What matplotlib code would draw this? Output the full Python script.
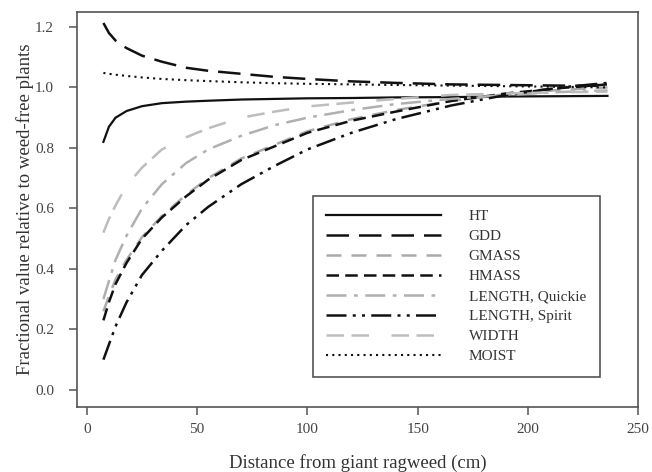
import matplotlib
matplotlib.use("Agg")
import matplotlib.pyplot as plt

plt.rcParams["font.family"] = ["Liberation Serif", "DejaVu Serif"]

# distance from giant ragweed (cm)
dist = [7.5, 10, 13, 18, 25, 34, 45, 55, 70, 85, 100, 120, 140, 165, 190, 215, 236]

# fractional values
ht = [0.82, 0.87, 0.90, 0.922, 0.938, 0.948, 0.953, 0.956, 0.96, 0.962,
      0.964, 0.965, 0.967, 0.968, 0.97, 0.971, 0.972]
gdd = [1.213, 1.18, 1.155, 1.13, 1.105, 1.085, 1.065, 1.055, 1.045, 1.035,
       1.028, 1.02, 1.015, 1.01, 1.008, 1.006, 1.005]
gmass = [0.26, 0.31, 0.365, 0.43, 0.505, 0.575, 0.645, 0.70, 0.765, 0.81,
         0.855, 0.895, 0.925, 0.955, 0.978, 0.992, 1.0]
hmass = [0.23, 0.29, 0.35, 0.42, 0.50, 0.57, 0.64, 0.695, 0.76, 0.805,
         0.85, 0.89, 0.92, 0.955, 0.98, 0.998, 1.01]
len_quickie = [0.30, 0.36, 0.43, 0.51, 0.60, 0.68, 0.75, 0.795, 0.84, 0.875,
               0.90, 0.925, 0.945, 0.962, 0.975, 0.985, 0.99]
len_spirit = [0.10, 0.15, 0.21, 0.29, 0.38, 0.46, 0.545, 0.605, 0.68, 0.74,
              0.795, 0.85, 0.895, 0.94, 0.975, 1.0, 1.015]
width = [0.52, 0.565, 0.61, 0.675, 0.735, 0.795, 0.835, 0.865, 0.90, 0.92,
         0.937, 0.95, 0.962, 0.975, 0.98, 0.984, 0.986]
moist = [1.048, 1.045, 1.042, 1.038, 1.033, 1.028, 1.024, 1.021, 1.017, 1.014,
         1.012, 1.01, 1.008, 1.006, 1.004, 1.002, 1.0]

xticks = [0, 50, 100, 150, 200, 250]
xticklabels = ["0", "50", "100", "150", "200", "250"]
yticks = [0.0, 0.2, 0.4, 0.6, 0.8, 1.0, 1.2]

fig = plt.figure(figsize=(6.52, 4.72), dpi=100)
ax = fig.add_axes([0.118, 0.138, 0.861, 0.837])

ax.plot(dist, ht, color="#111111", lw=1.6, label="HT")
ax.plot(dist, gdd, color="#111111", lw=1.8, dashes=(9, 4), label="GDD")
ax.plot(dist, gmass, color="#aaaaaa", lw=1.8, dashes=(6, 4), label="GMASS")
ax.plot(dist, hmass, color="#111111", lw=1.8, dashes=(5, 2.5), label="HMASS")
ax.plot(dist, len_quickie, color="#b0b0b0", lw=1.8, dashes=(8, 3, 1.5, 3),
        label="LENGTH, Quickie")
ax.plot(dist, len_spirit, color="#111111", lw=1.8, dashes=(8, 2.5, 1.2, 2.5, 1.2, 2.5),
        label="LENGTH, Spirit")
ax.plot(dist, width, color="#bdbdbd", lw=1.8, dashes=(7, 3, 7, 9), label="WIDTH")
ax.plot(dist, moist, color="#111111", lw=1.5, dashes=(1, 2), label="MOIST")

ax.set_xlim(-4.5, 250)
ax.set_ylim(-0.056, 1.25)
ax.set_xticks(xticks)
ax.set_xticklabels(xticklabels)
ax.set_yticks(yticks)
ax.set_yticklabels(["%.1f" % v for v in yticks])

for s in ax.spines.values():
    s.set_color("#555555")
    s.set_linewidth(1.2)
ax.tick_params(direction="out", length=5.5, width=1.1, color="#555555",
               labelcolor="#444444", labelsize=11)
ax.tick_params(axis="x", pad=6)
ax.tick_params(axis="y", pad=11)

ax.set_xlabel("Distance from giant ragweed (cm)", fontsize=13.5, color="#333333", labelpad=13)
ax.set_ylabel("Fractional value relative to weed-free plants", fontsize=13.5,
              color="#333333", labelpad=1)

leg = ax.legend(loc="upper left", bbox_to_anchor=(0.42, 0.534), fontsize=11,
                handlelength=7.5, handletextpad=1.8, labelspacing=0.41,
                fancybox=False, framealpha=1, borderpad=0.9, borderaxespad=0)
leg.get_frame().set_edgecolor("#555555")
leg.get_frame().set_linewidth(1.2)
for t in leg.get_texts():
    t.set_color("#333333")

fig.savefig("out.png", dpi=100)
